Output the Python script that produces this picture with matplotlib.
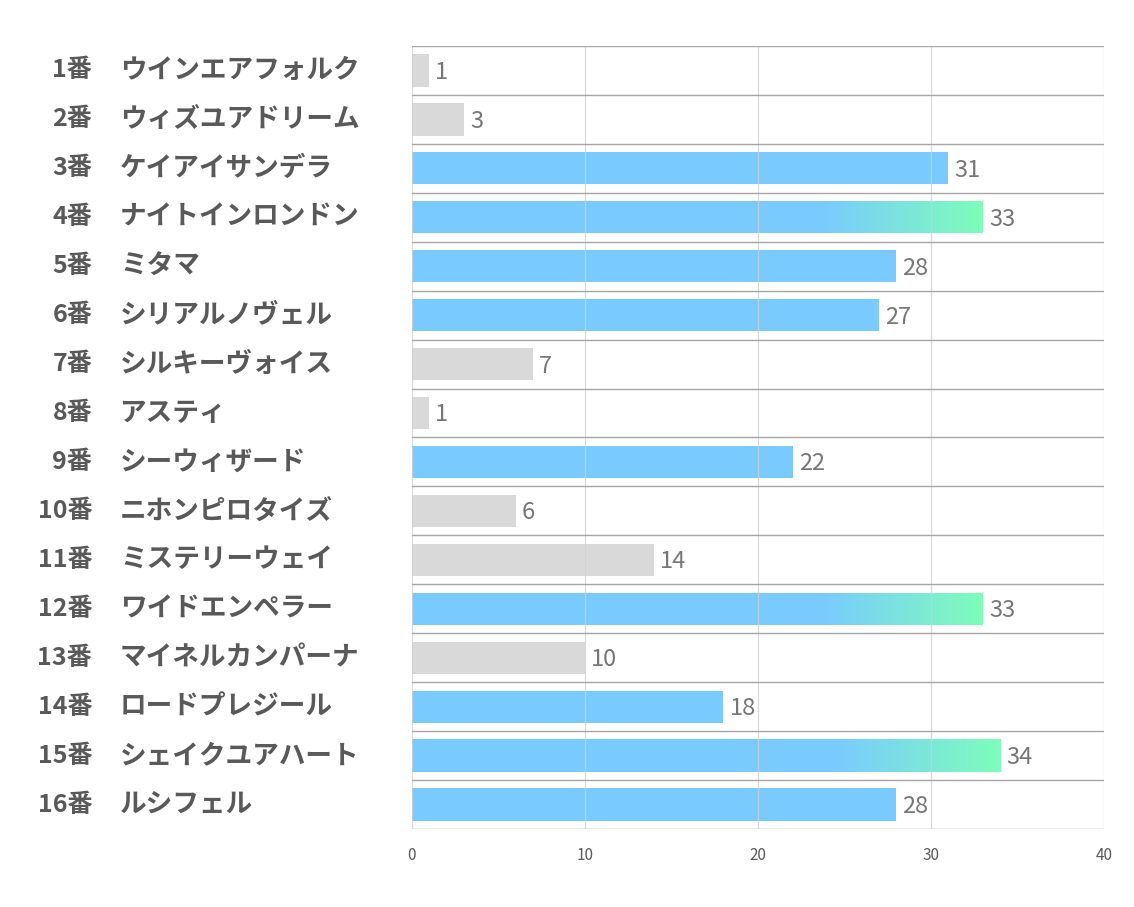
import numpy as np
import matplotlib.pyplot as plt
import matplotlib.transforms as mtransforms
from matplotlib.colors import LinearSegmentedColormap

plt.rcParams['font.family'] = ['Noto Sans CJK JP', 'DejaVu Sans']

numbers = ["1番", "2番", "3番", "4番", "5番", "6番", "7番", "8番",
           "9番", "10番", "11番", "12番", "13番", "14番", "15番", "16番"]
names = ["ウインエアフォルク", "ウィズユアドリーム", "ケイアイサンデラ", "ナイトインロンドン",
         "ミタマ", "シリアルノヴェル", "シルキーヴォイス", "アスティ",
         "シーウィザード", "ニホンピロタイズ", "ミステリーウェイ", "ワイドエンペラー",
         "マイネルカンパーナ", "ロードプレジール", "シェイクユアハート", "ルシフェル"]
values = [1, 3, 31, 33, 28, 27, 7, 1, 22, 6, 14, 33, 10, 18, 34, 28]

GRAY = "#D9D9D9"
BLUE = "#79CBFF"
GREEN = "#7EFDBA"
grad_cmap = LinearSegmentedColormap.from_list("bg", [BLUE, GREEN])

fig = plt.figure(figsize=(11.34, 9.07), dpi=100)
ax = fig.add_axes([0.3633, 0.0860, 0.6102, 0.8633])

ypos = np.arange(len(values))
bar_h = 0.66
colors = [GRAY if v < 15 else BLUE for v in values]
bars = ax.barh(ypos, values, height=bar_h, color=colors, lw=0, zorder=2)

# gradient on the top bars (blue -> green over the last part of the bar)
for bar, y, v in zip(bars, ypos, values):
    if v >= 33:
        xs = np.linspace(0, 1, 400)
        grad = np.clip((xs - 0.72) / 0.28, 0, 1).reshape(1, -1)
        im = ax.imshow(grad, cmap=grad_cmap, aspect='auto', zorder=2.5,
                       extent=[0, v, y + bar_h, y - bar_h],
                       interpolation='bilinear', vmin=0, vmax=1)
        im.set_clip_path(bar)

for y, v in zip(ypos, values):
    ax.text(v + 0.35, y + 0.04, str(v), va='center', ha='left',
            fontsize=17, color='#767676')

ax.set_xlim(0, 40)
ax.set_ylim(len(values) - 0.5, -0.5)
ax.set_xticks([0, 10, 20, 30, 40])
ax.set_yticks([])
ax.tick_params(axis='x', length=0, labelsize=11, labelcolor='#595959', pad=13)

# vertical grid lines
for xv in [0, 10, 20, 30, 40]:
    ax.axvline(xv, color='#D0D0D0', lw=0.9, zorder=3, alpha=0.8)
# row separators
for yb in np.arange(-0.5, len(values), 1.0):
    ax.axhline(yb, color='#A6A6A6', lw=1.0, zorder=3)

for s in ax.spines.values():
    s.set_visible(False)

trans = mtransforms.blended_transform_factory(fig.transFigure, ax.transData)
for y, num, name in zip(ypos, numbers, names):
    ax.text(92 / 1134, y, num, transform=trans, ha='right', va='center',
            fontsize=18, fontweight='bold', color='#595959')
    ax.text(120 / 1134, y, name, transform=trans, ha='left', va='center',
            fontsize=19.2, fontweight='bold', color='#595959')

fig.savefig("out.png", dpi=100)
